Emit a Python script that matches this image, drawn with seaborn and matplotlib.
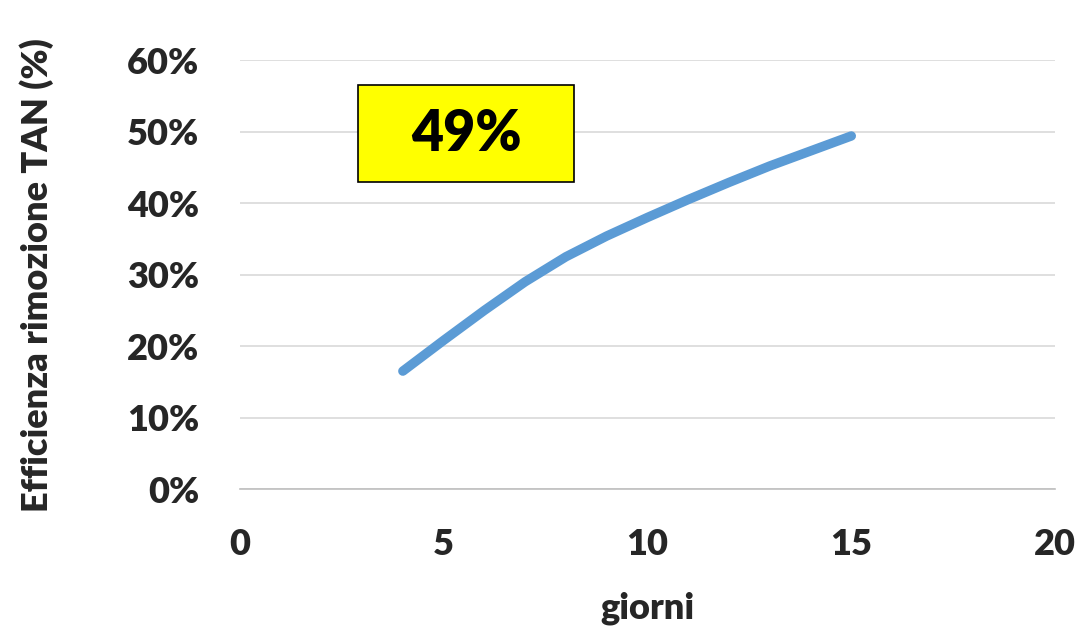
import matplotlib
matplotlib.use("Agg")
import matplotlib.pyplot as plt
import seaborn as sns
import pandas as pd
from matplotlib.patches import Rectangle
from matplotlib.ticker import PercentFormatter

# TAN removal efficiency over time (fraction)
giorni = [4, 5, 6, 7, 8, 9, 10, 11, 12, 13, 14, 15]
efficienza = [0.165, 0.208, 0.250, 0.290, 0.325, 0.354, 0.380, 0.405, 0.429, 0.452, 0.473, 0.494]
highlight_label = "49%"

x_ticks = [0, 5, 10, 15, 20]
y_ticks = [0.0, 0.1, 0.2, 0.3, 0.4, 0.5, 0.6]

sns.set_theme(style="white")
plt.rcParams["font.family"] = ["Lato", "DejaVu Sans"]
plt.rcParams["font.weight"] = "heavy"

df = pd.DataFrame({"giorni": giorni, "efficienza": efficienza})

fig = plt.figure(figsize=(10.8, 6.27), dpi=100)
ax = fig.add_axes([0.222, 0.22, 0.755, 0.684])

sns.lineplot(data=df, x="giorni", y="efficienza", ax=ax, color="#5B9BD5",
             linewidth=6.8, solid_capstyle="round", solid_joinstyle="round")

ax.set_xlim(0, 20)
ax.set_ylim(0, 0.6)
ax.set_xticks(x_ticks)
ax.set_yticks(y_ticks)
ax.yaxis.set_major_formatter(PercentFormatter(1.0, decimals=0))
ax.grid(axis="y", color="#d9d9d9", linewidth=1.2)
ax.grid(axis="x", visible=False)
for side in ["top", "right", "left"]:
    ax.spines[side].set_visible(False)
ax.spines["bottom"].set_color("#bfbfbf")
ax.spines["bottom"].set_linewidth(1.2)
ax.tick_params(axis="x", length=0, labelsize=26, pad=28)
ax.tick_params(axis="y", length=0, labelsize=26, pad=29)
for lbl in ax.get_xticklabels() + ax.get_yticklabels():
    lbl.set_fontweight("heavy")

ax.set_xlabel("giorni", fontsize=26, fontweight="heavy", labelpad=22)
ax.set_ylabel("Efficienza rimozione TAN (%)", fontsize=26, fontweight="heavy", labelpad=53)

# highlighted final value box
ax.add_patch(Rectangle((0.145, 0.716), 0.265, 0.226, transform=ax.transAxes,
                       facecolor="#FFFF00", edgecolor="black", linewidth=1.2, zorder=5))
ax.text(0.2775, 0.829, highlight_label, transform=ax.transAxes, ha="center", va="center",
        fontsize=40, fontweight="heavy", color="black", zorder=6)

fig.savefig("out.png", dpi=100, facecolor="white")
